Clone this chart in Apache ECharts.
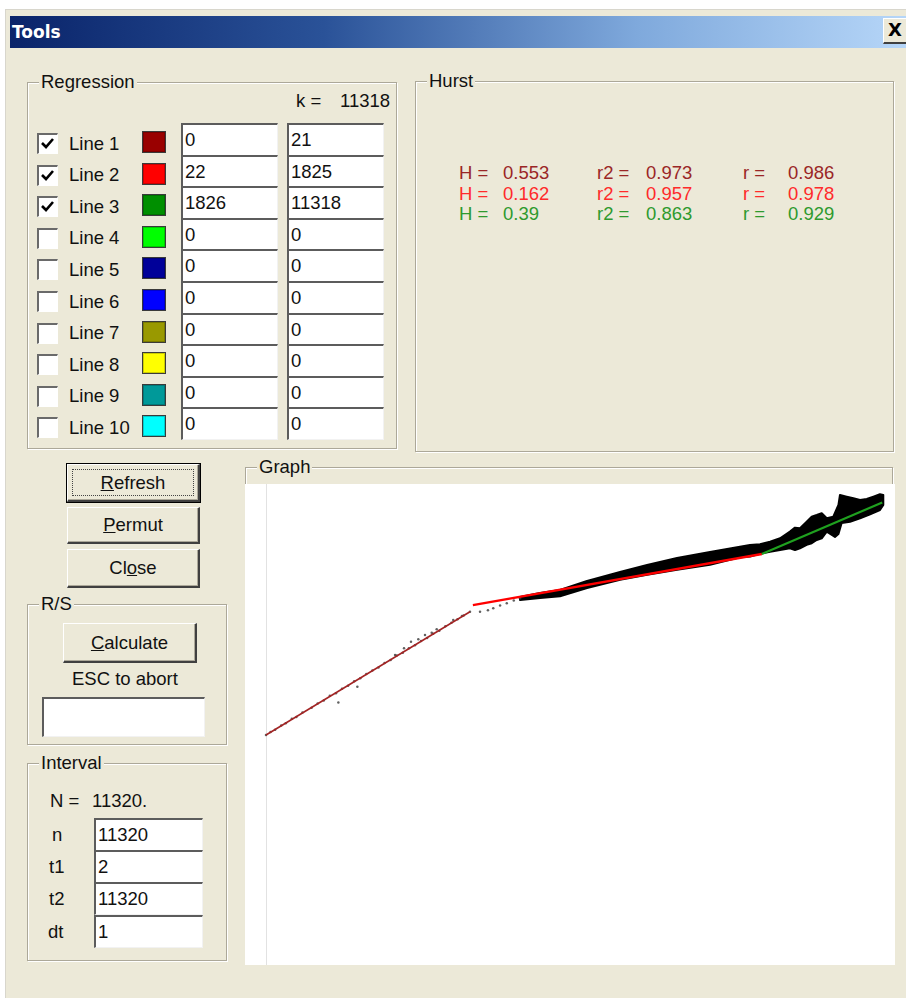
<!DOCTYPE html>
<html>
<head>
<meta charset="utf-8">
<title>Tools</title>
<script src="https://cdn.jsdelivr.net/npm/echarts@6/dist/echarts.min.js"></script>
<style>
html,body{margin:0;padding:0;}
body{background:#fff;width:906px;height:998px;overflow:hidden;position:relative;
  font-family:"Liberation Sans",Arial,sans-serif;font-size:18.5px;color:#111;}
#chart{position:absolute;left:245px;top:484px;width:650px;height:481px;background:#fff;}
</style>
</head>
<body>
<div id="chart"></div>
<script>
// ---------------- chart data (log10 n , log10 R/S) ----------------
// regression lines
const line1X = [0.000, 1.342];
const line1Y = [0.000, 0.742];
const line2X = [1.361, 3.262];
const line2Y = [0.782, 1.090];
const line3X = [3.262, 4.054];
const line3Y = [1.090, 1.400];

// sparse R/S points of the first part
const pointX = [0.00,0.03,0.06,0.10,0.13,0.17,0.20,0.24,0.30,0.34,0.38,0.42,0.46,0.476,0.50,0.54,0.58,0.601,0.62,0.66,0.70,0.74,0.78,0.82,0.849,0.86,0.90,0.908,0.94,0.954,0.98,1.002,1.02,1.046,1.06,1.09,1.10,1.123,1.14,1.18,1.22,1.232,1.26,1.289,1.30,1.342,1.408,1.46,1.495,1.54,1.584,1.63,1.671];
const pointY = [0.000,0.018,0.031,0.057,0.070,0.097,0.108,0.135,0.164,0.190,0.208,0.236,0.252,0.195,0.279,0.297,0.323,0.291,0.341,0.368,0.389,0.407,0.434,0.452,0.482,0.478,0.496,0.522,0.522,0.562,0.541,0.577,0.566,0.602,0.584,0.616,0.610,0.637,0.628,0.655,0.676,0.693,0.697,0.717,0.720,0.743,0.743,0.752,0.763,0.780,0.793,0.810,0.823];

// dense cloud of points (upper and lower envelope)
const bandUpperX = [1.671,1.803,1.934,2.112,2.329,2.507,2.704,2.921,3.118,3.184,3.250,3.316,3.382,3.447,3.480,3.513,3.557,3.590,3.623,3.656,3.689,3.732,3.766,3.776,3.820,3.864,3.908,3.952,3.996,4.039,4.061];
const bandUpperY = [0.831,0.855,0.873,0.928,0.982,1.024,1.066,1.102,1.134,1.145,1.149,1.164,1.185,1.225,1.249,1.245,1.285,1.315,1.325,1.336,1.306,1.315,1.386,1.446,1.436,1.426,1.416,1.422,1.436,1.450,1.446];
const bandLowerX = [1.671,1.803,1.934,2.112,2.329,2.507,2.704,2.921,3.118,3.184,3.250,3.316,3.382,3.447,3.480,3.513,3.557,3.590,3.623,3.656,3.689,3.743,3.766,3.787,3.842,3.908,3.974,4.039,4.061];
const bandLowerY = [0.813,0.825,0.835,0.885,0.935,0.965,0.995,1.025,1.070,1.075,1.092,1.104,1.114,1.125,1.114,1.125,1.145,1.155,1.175,1.185,1.225,1.193,1.211,1.277,1.285,1.305,1.330,1.355,1.386];

// ---------------- dialog texts ----------------
const lineNames   = ['Line 1','Line 2','Line 3','Line 4','Line 5','Line 6','Line 7','Line 8','Line 9','Line 10'];
const lineColors  = ['#990000','#ff0000','#008f00','#00ff00','#000099','#0000ff','#999900','#ffff00','#009999','#00ffff'];
const lineChecked = [true,true,true,false,false,false,false,false,false,false];
const lineFrom    = ['0','22','1826','0','0','0','0','0','0','0'];
const lineTo      = ['21','1825','11318','0','0','0','0','0','0','0'];
const hurstH      = ['0.553','0.162','0.39'];
const hurstR2     = ['0.973','0.957','0.863'];
const hurstR      = ['0.986','0.978','0.929'];
const hurstColors = ['#9a2626','#ff2a2a','#2e9a2e'];
const intervalLabels = ['n','t1','t2','dt'];
const intervalValues = ['11320','2','11320','1'];

// ---------------- build dialog ----------------
const BG = '#ECE9D8';
function el(css, html){
  const d = document.createElement('div');
  d.style.cssText = 'position:absolute;box-sizing:border-box;' + css;
  if (html != null) d.innerHTML = html;
  document.body.insertBefore(d, document.getElementById('chart'));
  return d;
}
function txt(x, cy, s, color, extra){
  return el(`left:${x}px;top:${cy-11}px;height:22px;line-height:22px;white-space:nowrap;color:${color||'#111'};${extra||''}`, s);
}
function group(x, y, w, h, label){
  el(`left:${x}px;top:${y}px;width:${w}px;height:${h}px;border:1px solid #aca899;box-shadow:inset 1px 1px 0 #fff,1px 1px 0 #fff;`);
  el(`left:${x+12}px;top:${y-11}px;height:22px;line-height:22px;padding:0 2px;background:${BG};white-space:nowrap;color:#111;`, label);
}
function sunken(x, y, w, h, val){
  el(`left:${x}px;top:${y}px;width:${w}px;height:${h}px;background:#fff;border-top:2px solid #5c5c5c;border-left:2px solid #5c5c5c;border-right:1px solid #f2f2f2;border-bottom:1px solid #f2f2f2;padding-left:2px;padding-top:1px;line-height:${h-5}px;color:#111;white-space:nowrap;overflow:hidden;`, val);
}
function button(x, y, w, h, label, def){
  const shadow = def ? 'box-shadow:0 0 0 1px #000,inset -1px -1px 0 #aca899;' : 'box-shadow:inset -1px -1px 0 #aca899;';
  el(`left:${x}px;top:${y}px;width:${w}px;height:${h}px;background:${BG};border-top:1px solid #fff;border-left:1px solid #fff;border-right:2px solid #404040;border-bottom:2px solid #404040;${shadow}text-align:center;line-height:${h-3}px;color:#111;`, label);
  if (def) el(`left:${x+5}px;top:${y+5}px;width:${w-11}px;height:${h-11}px;border:1px dotted #444;`);
}

// dialog body & title
el(`left:5px;top:9px;width:901px;height:989px;background:${BG};border-left:1px solid #d8d6cc;border-top:1px solid #d8d6cc;`);
el('left:10px;top:16px;width:896px;height:32px;background:linear-gradient(to right,#0a246a 0%,#2a5298 35%,#7fa9dc 70%,#b6d6f8 100%);');
txt(12, 32, 'Tools', '#fff', 'font-family:"DejaVu Sans",Verdana,sans-serif;font-weight:bold;font-size:17px;');
el(`left:883px;top:18px;width:26px;height:26px;background:${BG};border-top:1px solid #fff;border-left:1px solid #fff;border-bottom:2px solid #404040;text-align:center;line-height:22px;font-family:"DejaVu Sans",sans-serif;font-weight:bold;font-size:18px;color:#000;padding-right:3px;`, 'X');

// Regression
group(27, 82, 370, 367, 'Regression');
txt(296, 101, 'k =');
txt(340, 101, '11318');
for (let i = 0; i < lineNames.length; i++){
  const top = 123 + i * 31.6;
  el(`left:37px;top:${top+10}px;width:21px;height:21px;background:#fff;border-top:2px solid #6a6a6a;border-left:2px solid #6a6a6a;border-right:1px solid #fff;border-bottom:1px solid #fff;`,
     lineChecked[i] ? '<svg width="18" height="18" style="position:absolute;left:0;top:0"><polyline points="3,8 7,12 14,4" fill="none" stroke="#000" stroke-width="2.6"/></svg>' : '');
  txt(69, top + 20.5, lineNames[i]);
  el(`left:142px;top:${top+8}px;width:24px;height:22px;background:${lineColors[i]};border:1px solid #3a3a3a;box-shadow:inset 0 0 0 1px rgba(0,0,0,0.2);`);
  sunken(181, top, 97, 32.6, lineFrom[i]);
  sunken(287, top, 97, 32.6, lineTo[i]);
}

// Hurst
group(415, 81, 479, 371, 'Hurst');
const hurstRows = [173, 193.5, 214];
for (let i = 0; i < hurstH.length; i++){
  const c = hurstColors[i], cy = hurstRows[i];
  txt(459, cy, 'H =', c); txt(503, cy, hurstH[i], c);
  txt(597, cy, 'r2 =', c); txt(646, cy, hurstR2[i], c);
  txt(743, cy, 'r =', c); txt(788, cy, hurstR[i], c);
}

// Buttons
button(67, 464, 133, 38, '<u>R</u>efresh', true);
button(67, 507, 133, 37, '<u>P</u>ermut');
button(67, 549, 133, 39, 'Cl<u>o</u>se');

// R/S
group(27, 604, 200, 141, 'R/S');
button(63, 623, 134, 40, '<u>C</u>alculate');
txt(72, 679, 'ESC to abort');
sunken(42, 697, 163, 40, '');

// Interval
group(27, 763, 200, 198, 'Interval');
txt(50, 801, 'N =');
txt(92, 801, '11320.');
for (let i = 0; i < intervalLabels.length; i++){
  const top = 818 + i * 32.2;
  txt(i === 0 ? 52 : (i === 3 ? 48 : 49), top + 17, intervalLabels[i]);
  sunken(94, top, 109, 33, intervalValues[i]);
}

// Graph frame
group(245, 467, 648, 497, 'Graph');

// ---------------- chart ----------------
const zip = (xs, ys) => xs.map((x, i) => [x, ys[i]]);
const chart = echarts.init(document.getElementById('chart'), null, {renderer: 'canvas'});
chart.setOption({
  animation: false,
  backgroundColor: '#fff',
  grid: {left: 21, right: 0, top: 0, bottom: 0},
  xAxis: {type: 'value', min: 0, max: 4.138,
    axisLine: {show: false}, axisTick: {show: false}, axisLabel: {show: false}, splitLine: {show: false}},
  yAxis: {type: 'value', min: -1.386, max: 1.512,
    axisLine: {show: true, onZero: false, lineStyle: {color: '#e2e2e2', width: 1}},
    axisTick: {show: false}, axisLabel: {show: false}, splitLine: {show: false}},
  series: [
    {
      type: 'custom', silent: true, z: 1,
      data: [[bandUpperX[0], bandUpperY[0]]],
      renderItem: function (params, api) {
        const up = bandUpperX.map((x, i) => api.coord([x, bandUpperY[i]]));
        const lo = bandLowerX.map((x, i) => api.coord([x, bandLowerY[i]])).reverse();
        return {type: 'polygon', shape: {points: up.concat(lo)},
          style: {fill: '#000', stroke: '#000', lineWidth: 2, lineJoin: 'round'}};
      }
    },
    {type: 'scatter', data: zip(pointX, pointY), symbolSize: 2.5, itemStyle: {color: '#3a3a3a'}, z: 2, silent: true},
    {type: 'line', data: zip(line1X, line1Y), symbol: 'none', lineStyle: {color: '#a32424', width: 1.6}, z: 3, silent: true},
    {type: 'line', data: zip(line2X, line2Y), symbol: 'none', lineStyle: {color: '#ff0000', width: 2.4}, z: 3, silent: true},
    {type: 'line', data: zip(line3X, line3Y), symbol: 'none', lineStyle: {color: '#1fa01f', width: 2.2}, z: 3, silent: true}
  ]
});
</script>
</body>
</html>
